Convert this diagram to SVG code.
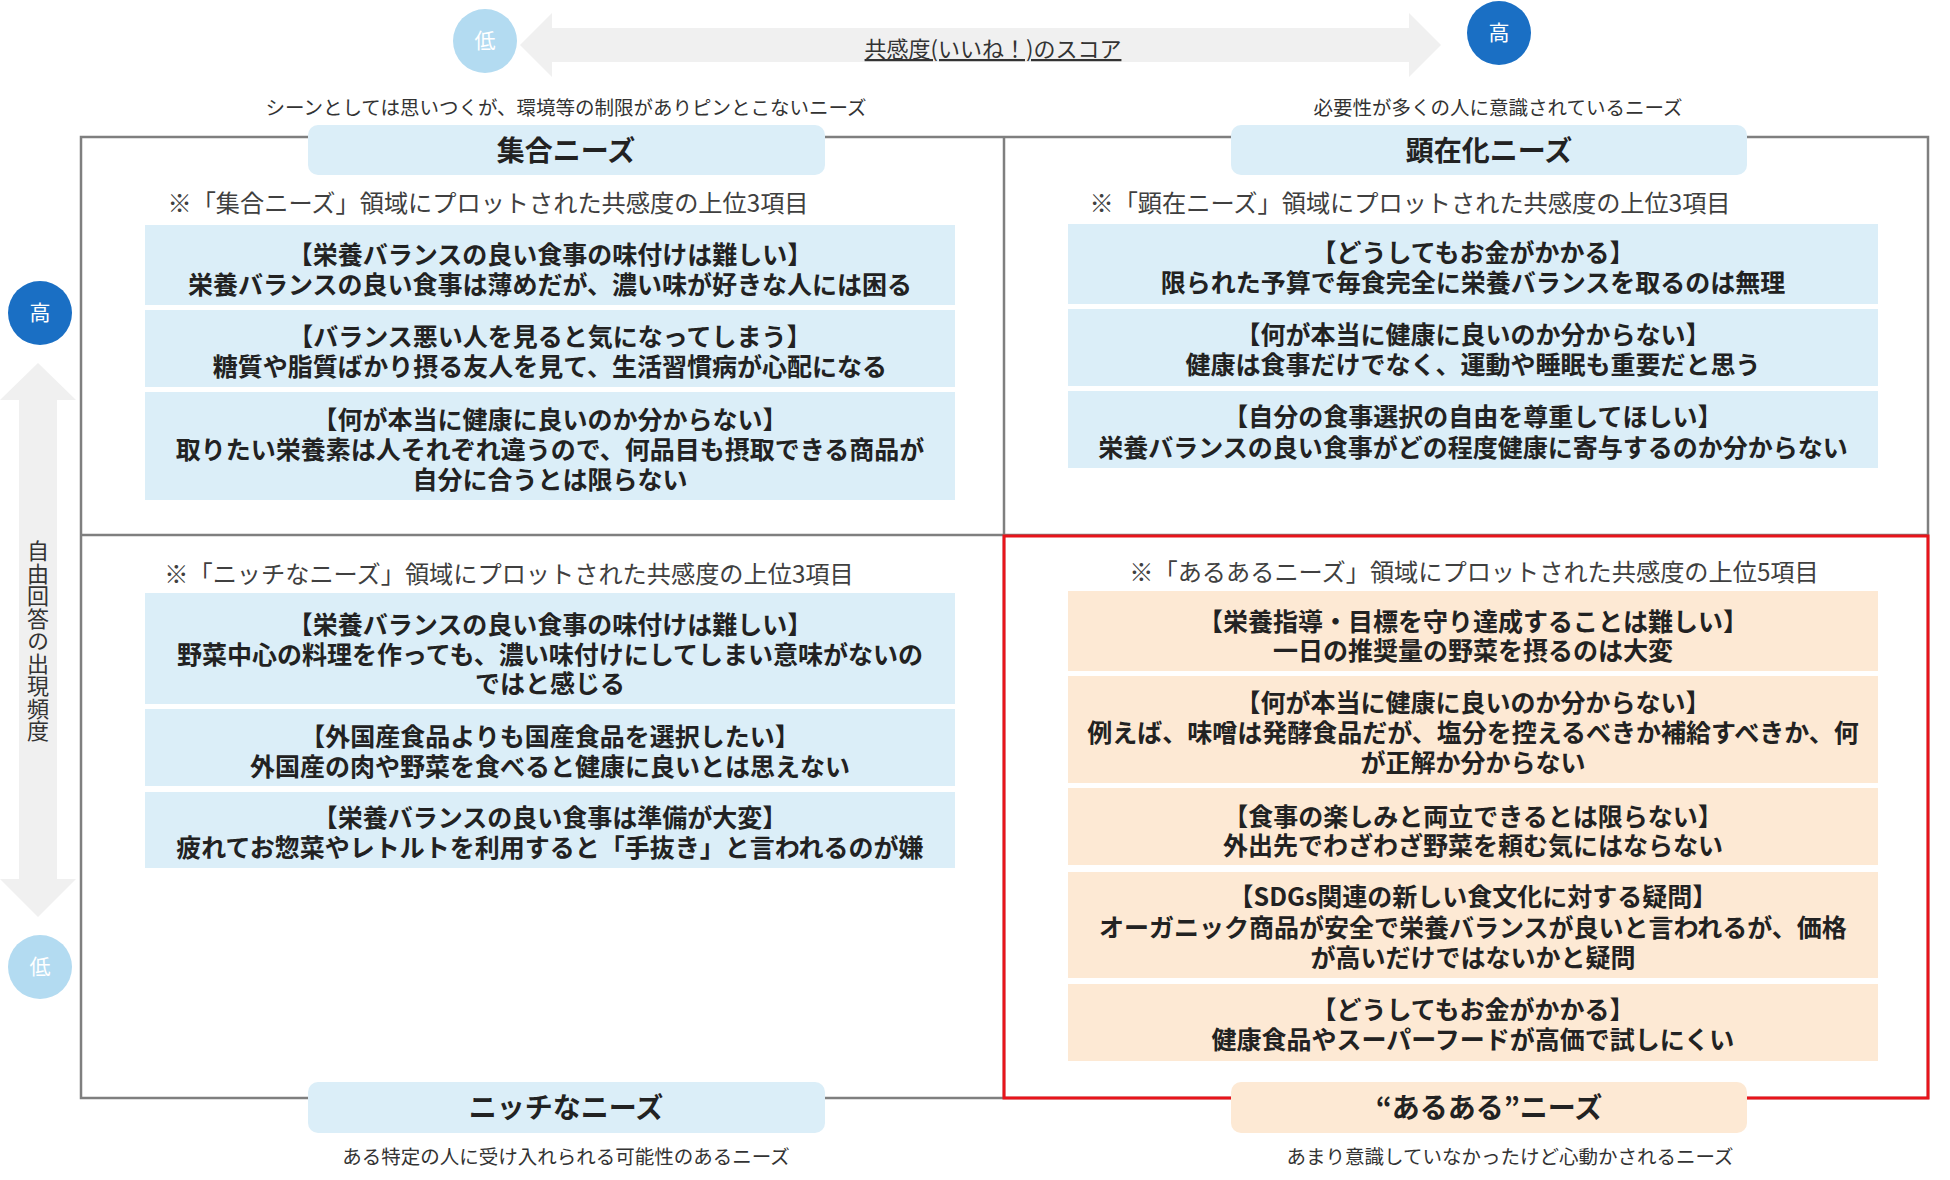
<svg xmlns="http://www.w3.org/2000/svg" width="1950" height="1180" viewBox="0 0 1950 1180">
<style>
text{font-family:"Noto Sans CJK JP","Noto Sans",sans-serif;}
.bb{fill:#dbeef8;}
.bo{fill:#fde9d4;}
.bt{font-size:25px;font-weight:bold;text-anchor:middle;fill:#222;}
.nt{font-size:24.2px;text-anchor:middle;fill:#404040;}
.hd{font-size:28px;font-weight:bold;text-anchor:middle;fill:#222;}
.sub{font-size:19.5px;text-anchor:middle;fill:#333;}
.frame{fill:none;stroke:#7f7f7f;stroke-width:2.5;}
.ax{fill:#f0f0f0;}
.ct{font-size:21px;text-anchor:middle;fill:#fff;}
.vt{writing-mode:vertical-rl;font-size:22px;letter-spacing:0.5px;fill:#333;}
</style>
<rect width="1950" height="1180" fill="#fff"/>
<g id="connectors">
  <polygon class="ax" points="520,45 552,13 552,28 1409,28 1409,13 1441,45 1409,77 1409,62 552,62 552,77"/>
  <polygon class="ax" points="38,363 76,400 57,400 57,879 76,879 38,917 0,879 19,879 19,400 0,400"/>
</g>
<g id="frame">
  <rect class="frame" x="81" y="137" width="1847" height="961"/>
  <line class="frame" x1="1004" y1="137" x2="1004" y2="1098"/>
  <line class="frame" x1="81" y1="535" x2="1928" y2="535"/>
  <rect x="1004" y="536" width="924" height="562" fill="none" stroke="#e8141b" stroke-width="3"/>
</g>
<g id="axis-x">
  <text x="993" y="57" font-size="22" text-anchor="middle" fill="#333" text-decoration="underline">共感度(いいね！)のスコア</text>
</g>
<g id="x-low"><circle cx="485" cy="41" r="32" fill="#b3dbf1"/><text class="ct" x="485" y="48">低</text></g>
<g id="x-high"><circle cx="1499" cy="33" r="32" fill="#1a6fc4"/><text class="ct" x="1499" y="40">高</text></g>
<g id="axis-y">
  <text class="vt" x="38" y="540">自由回答の出現頻度</text>
</g>
<g id="y-high"><circle cx="40" cy="313" r="32" fill="#1a6fc4"/><text class="ct" x="40" y="320">高</text></g>
<g id="y-low"><circle cx="40" cy="967" r="32" fill="#b3dbf1"/><text class="ct" x="40" y="974">低</text></g>

<g id="q-shugo">
  <text class="sub" x="566" y="115" font-size="19">シーンとしては思いつくが、環境等の制限がありピンとこないニーズ</text>
  <rect class="bb" x="308" y="125" width="517" height="50" rx="10"/>
  <text class="hd" x="566" y="161">集合ニーズ</text>
  <text class="nt" x="488" y="212">※「集合ニーズ」領域にプロットされた共感度の上位3項目</text>
  <rect class="bb" x="145" y="225" width="810" height="80"/>
  <text class="bt" x="550" y="264">【栄養バランスの良い食事の味付けは難しい】</text>
  <text class="bt" x="550" y="294">栄養バランスの良い食事は薄めだが、濃い味が好きな人には困る</text>
  <rect class="bb" x="145" y="310" width="810" height="77"/>
  <text class="bt" x="550" y="346">【バランス悪い人を見ると気になってしまう】</text>
  <text class="bt" x="550" y="376">糖質や脂質ばかり摂る友人を見て、生活習慣病が心配になる</text>
  <rect class="bb" x="145" y="392" width="810" height="108"/>
  <text class="bt" x="550" y="429">【何が本当に健康に良いのか分からない】</text>
  <text class="bt" x="550" y="459">取りたい栄養素は人それぞれ違うので、何品目も摂取できる商品が</text>
  <text class="bt" x="550" y="489">自分に合うとは限らない</text>
</g>

<g id="q-kenzai">
  <text class="sub" x="1498" y="115">必要性が多くの人に意識されているニーズ</text>
  <rect class="bb" x="1231" y="125" width="516" height="50" rx="10"/>
  <text class="hd" x="1489" y="161">顕在化ニーズ</text>
  <text class="nt" x="1410" y="212">※「顕在ニーズ」領域にプロットされた共感度の上位3項目</text>
  <rect class="bb" x="1068" y="224" width="810" height="80"/>
  <text class="bt" x="1473" y="262">【どうしてもお金がかかる】</text>
  <text class="bt" x="1473" y="292">限られた予算で毎食完全に栄養バランスを取るのは無理</text>
  <rect class="bb" x="1068" y="309" width="810" height="77"/>
  <text class="bt" x="1473" y="344">【何が本当に健康に良いのか分からない】</text>
  <text class="bt" x="1473" y="374">健康は食事だけでなく、運動や睡眠も重要だと思う</text>
  <rect class="bb" x="1068" y="391" width="810" height="77"/>
  <text class="bt" x="1473" y="426">【自分の食事選択の自由を尊重してほしい】</text>
  <text class="bt" x="1473" y="457">栄養バランスの良い食事がどの程度健康に寄与するのか分からない</text>
</g>

<g id="q-niche">
  <text class="nt" x="509" y="583">※「ニッチなニーズ」領域にプロットされた共感度の上位3項目</text>
  <rect class="bb" x="145" y="593" width="810" height="111"/>
  <text class="bt" x="550" y="634">【栄養バランスの良い食事の味付けは難しい】</text>
  <text class="bt" x="550" y="664">野菜中心の料理を作っても、濃い味付けにしてしまい意味がないの</text>
  <text class="bt" x="550" y="693">ではと感じる</text>
  <rect class="bb" x="145" y="709" width="810" height="77"/>
  <text class="bt" x="550" y="746">【外国産食品よりも国産食品を選択したい】</text>
  <text class="bt" x="550" y="776">外国産の肉や野菜を食べると健康に良いとは思えない</text>
  <rect class="bb" x="145" y="792" width="810" height="76"/>
  <text class="bt" x="550" y="827">【栄養バランスの良い食事は準備が大変】</text>
  <text class="bt" x="550" y="857">疲れてお惣菜やレトルトを利用すると「手抜き」と言われるのが嫌</text>
  <rect class="bb" x="308" y="1082" width="517" height="51" rx="10"/>
  <text class="hd" x="566" y="1118">ニッチなニーズ</text>
  <text class="sub" x="566" y="1164">ある特定の人に受け入れられる可能性のあるニーズ</text>
</g>

<g id="q-aruaru">
  <text class="nt" x="1474" y="581">※「あるあるニーズ」領域にプロットされた共感度の上位5項目</text>
  <rect class="bo" x="1068" y="591" width="810" height="80"/>
  <text class="bt" x="1473" y="631">【栄養指導・目標を守り達成することは難しい】</text>
  <text class="bt" x="1473" y="660">一日の推奨量の野菜を摂るのは大変</text>
  <rect class="bo" x="1068" y="676" width="810" height="107"/>
  <text class="bt" x="1473" y="712">【何が本当に健康に良いのか分からない】</text>
  <text class="bt" x="1473" y="742">例えば、味噌は発酵食品だが、塩分を控えるべきか補給すべきか、何</text>
  <text class="bt" x="1473" y="772">が正解か分からない</text>
  <rect class="bo" x="1068" y="788" width="810" height="77"/>
  <text class="bt" x="1473" y="826">【食事の楽しみと両立できるとは限らない】</text>
  <text class="bt" x="1473" y="855">外出先でわざわざ野菜を頼む気にはならない</text>
  <rect class="bo" x="1068" y="872" width="810" height="106"/>
  <text class="bt" x="1473" y="906">【SDGs関連の新しい食文化に対する疑問】</text>
  <text class="bt" x="1473" y="937">オーガニック商品が安全で栄養バランスが良いと言われるが、価格</text>
  <text class="bt" x="1473" y="967">が高いだけではないかと疑問</text>
  <rect class="bo" x="1068" y="984" width="810" height="77"/>
  <text class="bt" x="1473" y="1019">【どうしてもお金がかかる】</text>
  <text class="bt" x="1473" y="1049">健康食品やスーパーフードが高価で試しにくい</text>
  <rect class="bo" x="1231" y="1082" width="516" height="51" rx="10"/>
  <text class="hd" x="1489" y="1118">“あるある”ニーズ</text>
  <text class="sub" x="1510" y="1164">あまり意識していなかったけど心動かされるニーズ</text>
</g>
</svg>
